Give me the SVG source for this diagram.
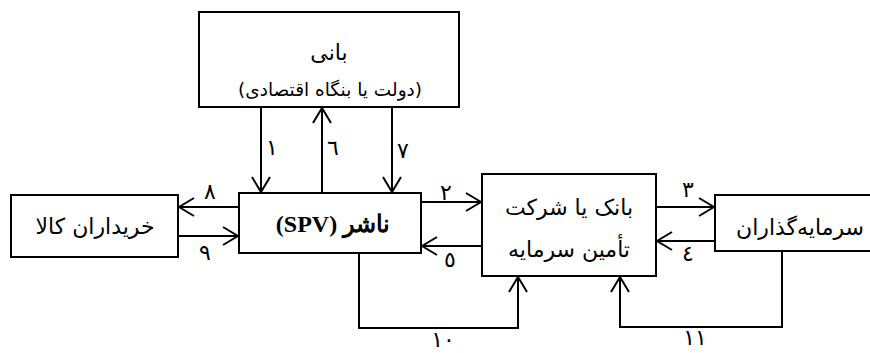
<svg xmlns="http://www.w3.org/2000/svg" width="870" height="353" viewBox="0 0 870 353">
<style>
.box{fill:#fff;stroke:#000;stroke-width:2}
.c{fill:none;stroke:#000;stroke-width:2}
.t{font-family:"DejaVu Sans","Noto Sans",sans-serif;font-size:22px;fill:#000;text-anchor:middle;direction:rtl}
.b{font-family:"Liberation Serif","DejaVu Serif",serif;font-weight:bold;font-size:24px}
.n{font-family:"DejaVu Sans","Noto Sans",sans-serif;font-size:22px;fill:#000;text-anchor:middle}
</style>
<defs>
<marker id="ah" markerUnits="userSpaceOnUse" viewBox="0 0 17 20" refX="16" refY="10" markerWidth="17" markerHeight="20" orient="auto">
<path d="M1,1 L16,10 L1,19" fill="none" stroke="#000" stroke-width="2"/>
</marker>
</defs>
<g id="sponsor">
<rect class="box" x="199" y="12" width="260" height="95"/>
<text class="t" x="329" y="60">بانی</text>
<text class="t" x="330" y="96" style="font-size:18.5px">(دولت یا بنگاه اقتصادی)</text>
</g>
<g id="buyers">
<rect class="box" x="11" y="195" width="167" height="62"/>
<text class="t" x="95" y="234">خریداران کالا</text>
</g>
<g id="spv">
<rect class="box" x="239" y="193" width="182" height="60"/>
<text class="t b" x="333" y="232">ناشر (SPV)</text>
</g>
<g id="bank">
<rect class="box" x="482" y="174" width="174" height="102"/>
<text class="t" x="569" y="215">بانک یا شرکت</text>
<text class="t" x="569" y="257">تأمین سرمایه</text>
</g>
<g id="investors">
<rect class="box" x="715" y="195" width="160" height="56"/>
<text class="t" x="800" y="235">سرمایه‌گذاران</text>
</g>
<g id="connectors">
<line class="c" x1="261" y1="107" x2="261" y2="192" marker-end="url(#ah)"/>
<line class="c" x1="322" y1="193" x2="322" y2="108" marker-end="url(#ah)"/>
<line class="c" x1="392" y1="107" x2="392" y2="192" marker-end="url(#ah)"/>
<line class="c" x1="421" y1="202" x2="481" y2="202" marker-end="url(#ah)"/>
<line class="c" x1="482" y1="246" x2="422" y2="246" marker-end="url(#ah)"/>
<line class="c" x1="656" y1="207" x2="714" y2="207" marker-end="url(#ah)"/>
<line class="c" x1="715" y1="241" x2="657" y2="241" marker-end="url(#ah)"/>
<line class="c" x1="239" y1="207" x2="179" y2="207" marker-end="url(#ah)"/>
<line class="c" x1="178" y1="236" x2="238" y2="236" marker-end="url(#ah)"/>
<polyline class="c" points="359,253 359,328 518,328 518,277" marker-end="url(#ah)"/>
<polyline class="c" points="782,251 782,327 620,327 620,277" marker-end="url(#ah)"/>
<text class="n" x="272" y="155">۱</text>
<text class="n" x="333" y="155">٦</text>
<text class="n" x="403" y="158">٧</text>
<text class="n" x="446" y="200">۲</text>
<text class="n" x="450" y="267">٥</text>
<text class="n" x="688" y="197">۳</text>
<text class="n" x="688" y="261">٤</text>
<text class="n" x="210" y="199">۸</text>
<text class="n" x="205" y="260">۹</text>
<text class="n" x="443" y="347">۱۰</text>
<text class="n" x="695" y="345">۱۱</text>
</g>
</svg>
